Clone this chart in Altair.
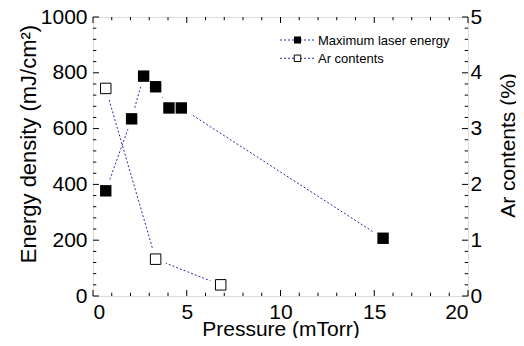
import altair as alt
import pandas as pd

# ---- data ----
pressure_energy = [0.68, 2.06, 2.70, 3.34, 4.05, 4.71, 15.47]
energy_density = [377, 635, 788, 750, 674, 674, 207]
pressure_ar = [0.68, 3.34, 6.81]
ar_contents = [3.72, 0.66, 0.20]
series_names = ["Maximum laser energy", "Ar contents"]

x_ticks = [0, 5, 10, 15, 20]
y_left_ticks = [0, 200, 400, 600, 800, 1000]
y_right_ticks = [0, 1, 2, 3, 4, 5]
x_minor = [v for v in range(0, 21) if v % 5 != 0]
y_minor = [v for v in range(0, 1001, 40) if v % 200 != 0]  # shared by both y axes

W, H = 375, 279
FONT = "Liberation Sans"
LINE = "#2a2ab0"
MAJ, MIN = 6, 3.3

df_e = pd.DataFrame({"p": pressure_energy, "v": energy_density})
df_a = pd.DataFrame({"p": pressure_ar, "v": ar_contents})

xs = alt.Scale(domain=[0, 20], nice=False, zero=False)
ys_e = alt.Scale(domain=[0, 1000], nice=False, zero=False)
ys_a = alt.Scale(domain=[0, 5], nice=False, zero=False)

# 1: energy line + bottom/left label axes
l1 = alt.Chart(df_e).mark_line(color=LINE, strokeDash=[2, 2], strokeWidth=1).encode(
    x=alt.X("p:Q", scale=xs, axis=alt.Axis(
        orient="bottom", values=x_ticks, ticks=False, tickSize=0, domain=False,
        format="d", labelFontSize=21, labelPadding=5, labelFont=FONT, labelColor="black",
        title="Pressure (mTorr)", titleFont=FONT, titleFontSize=21,
        titleFontWeight="normal", titleColor="black", titleBaseline="alphabetic",
        titleY=39, titleX=W / 2, titleAlign="center", grid=False)),
    y=alt.Y("v:Q", scale=ys_e, axis=alt.Axis(
        orient="left", values=y_left_ticks, ticks=False, tickSize=0, domain=False,
        format="d", labelFontSize=21, labelPadding=6, labelFont=FONT, labelColor="black",
        title="Energy density (mJ/cm²)", titleFont=FONT, titleFontSize=22,
        titleFontWeight="normal", titleColor="black", titleAngle=270,
        titleBaseline="alphabetic", titleAlign="center", titleX=-58, titleY=126.5,
        grid=False)),
)

# 2: Ar line + right label axis
l2 = alt.Chart(df_a).mark_line(color=LINE, strokeDash=[2, 2], strokeWidth=1).encode(
    x=alt.X("p:Q", scale=xs, axis=None),
    y=alt.Y("v:Q", scale=ys_a, axis=alt.Axis(
        orient="right", values=y_right_ticks, ticks=False, tickSize=0, domain=False,
        format="d", labelFontSize=21, labelPadding=2, labelFont=FONT, labelColor="black",
        title="Ar contents (%)", titleFont=FONT, titleFontSize=21,
        titleFontWeight="normal", titleColor="black", titleAngle=270,
        titleBaseline="alphabetic", titleAlign="center", titleX=46, titleY=128,
        grid=False)),
)

# halos (gaps of the dotted lines around the markers)
l3 = alt.Chart(df_e).mark_square(size=420, color="white", opacity=1).encode(
    x=alt.X("p:Q", scale=xs, axis=None), y=alt.Y("v:Q", scale=ys_e, axis=None))
l4 = alt.Chart(df_a).mark_square(size=420, color="white", opacity=1).encode(
    x=alt.X("p:Q", scale=xs, axis=None), y=alt.Y("v:Q", scale=ys_a, axis=None))

# inward ticks drawn through the scales
tick_layers = []
for vals, size in [(x_ticks, MAJ), (x_minor, MIN)]:
    d = pd.DataFrame({"t": vals})
    for y0, y1 in [(H, H - size), (0, size)]:
        tick_layers.append(alt.Chart(d).mark_rule(color="black", strokeWidth=1).encode(
            x=alt.X("t:Q", scale=xs, axis=None), y=alt.value(y0), y2=alt.value(y1)))
for vals, size in [(y_left_ticks, MAJ), (y_minor, MIN)]:
    d = pd.DataFrame({"t": vals})
    for x0, x1 in [(0, size), (W, W - size)]:
        tick_layers.append(alt.Chart(d).mark_rule(color="black", strokeWidth=1).encode(
            y=alt.Y("t:Q", scale=ys_e, axis=None), x=alt.value(x0), x2=alt.value(x1)))

# markers
l5 = alt.Chart(df_e).mark_square(size=130, color="black", opacity=1).encode(
    x=alt.X("p:Q", scale=xs, axis=None),
    y=alt.Y("v:Q", scale=ys_e, axis=None),
)
l6 = alt.Chart(df_a).mark_square(size=110, filled=True, fill="white", stroke="black",
                                 strokeWidth=1, opacity=1).encode(
    x=alt.X("p:Q", scale=xs, axis=None),
    y=alt.Y("v:Q", scale=ys_a, axis=None),
)

# legend
leg_rows = [23, 41.3]
legend_layers = []
for i, name in enumerate(series_names):
    yy = leg_rows[i]
    legend_layers.append(alt.Chart(pd.DataFrame({"a": [0]})).mark_rule(
        color=LINE, strokeDash=[2, 2], strokeWidth=1).encode(
        x=alt.value(187), x2=alt.value(223), y=alt.value(yy)))
    if i == 0:
        sq = alt.Chart(pd.DataFrame({"a": [0]})).mark_square(
            size=50, color="black", opacity=1)
    else:
        sq = alt.Chart(pd.DataFrame({"a": [0]})).mark_square(
            size=42, filled=True, fill="white", stroke="black", strokeWidth=1, opacity=1)
    legend_layers.append(sq.encode(x=alt.value(204.5), y=alt.value(yy)))
    legend_layers.append(alt.Chart(pd.DataFrame({"a": [0]})).mark_text(
        align="left", baseline="middle", font=FONT, fontSize=13, color="black").encode(
        x=alt.value(225), y=alt.value(yy + 0.5), text=alt.value(name)))

chart = alt.layer(l1, l2, l3, l4, *tick_layers, l5, l6, *legend_layers).resolve_scale(
    x="independent", y="independent"
).resolve_axis(
    x="independent", y="independent"
).properties(
    width=W, height=H,
    autosize=alt.AutoSizeParams(type="none"),
    padding={"left": 85, "top": 9, "right": 48, "bottom": 42},
).configure_view(
    stroke="black", strokeWidth=1.5
).configure(background="white")

chart.save("out.html", embed_options={"renderer": "svg", "actions": False})
